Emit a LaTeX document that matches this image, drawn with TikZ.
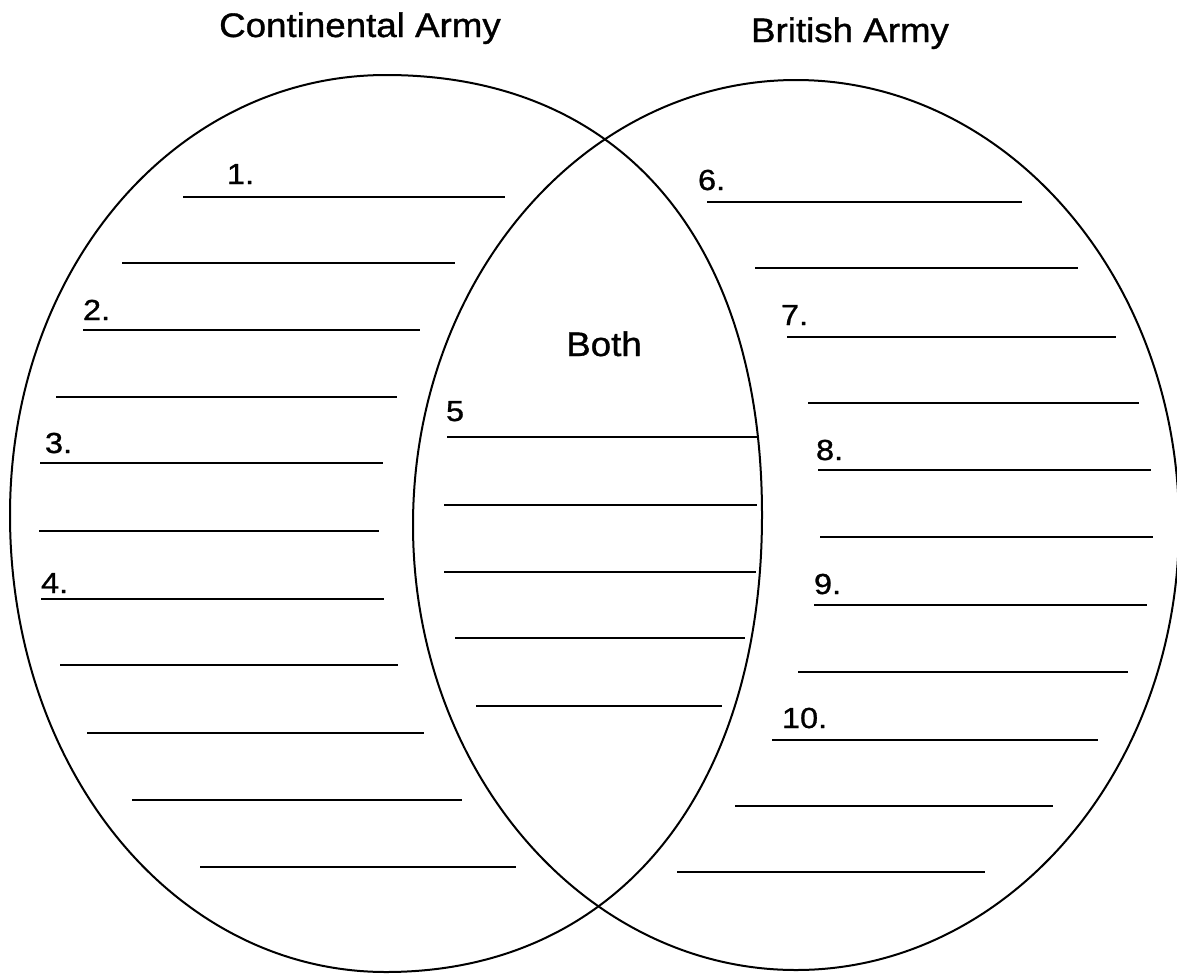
\documentclass[tikz,border=0pt]{standalone}
\usepackage{fontspec}
\setmainfont{Liberation Sans}
\newfontfamily\headfont{Liberation Sans}[FakeBold=1, FakeStretch=1.08]
\newfontfamily\numfont{Liberation Sans}[FakeBold=1, FakeStretch=1.12]
\begin{document}
\begin{tikzpicture}[x=1pt, y=-1pt, line width=2pt,
  title/.style={font=\headfont\fontsize{34}{40}\selectfont, anchor=base, inner sep=0pt},
  num/.style={font=\numfont\fontsize{29}{32}\selectfont, anchor=base west, inner sep=0pt},
  rule/.style={line width=1.9pt}
]
  \useasboundingbox (0,0) rectangle (1177,975);
  % the two sets (hand drawn, a little fuller than true ellipses)
  \draw (762,515) .. controls (762,240) and (621,75) .. (386,75)
                  .. controls (175,75) and (10,269) .. (10,515)
                  .. controls (10,771) and (175,972) .. (386,972)
                  .. controls (615,972) and (762,794) .. cycle;
  \draw (796,525) ellipse [x radius=383, y radius=445];
  % headings
  \node[title] (cont) at (360,37)  {Continental Army};
  \node[title] (brit) at (850,42)  {British Army};
  \node[title] (both) at (604,356) {Both};
  % Continental Army
  \node[num] (n1) at (226,184) {1.};
  \node[num] (n2) at (82,320)  {2.};
  \node[num] (n3) at (44,453)  {3.};
  \node[num] (n4) at (40,593)  {4.};
  \draw[rule] (183,197) -- (505,197);
  \draw[rule] (122,263) -- (455,263);
  \draw[rule] (83,330)  -- (420,330);
  \draw[rule] (56,397)  -- (397,397);
  \draw[rule] (40,463)  -- (383,463);
  \draw[rule] (39,531)  -- (379,531);
  \draw[rule] (41,599)  -- (384,599);
  \draw[rule] (60,665)  -- (398,665);
  \draw[rule] (87,733)  -- (424,733);
  \draw[rule] (132,800) -- (462,800);
  \draw[rule] (200,867) -- (516,867);
  % Both
  \node[num] (n5) at (445,421) {5};
  \draw[rule] (447,437) -- (758,437);
  \draw[rule] (444,505) -- (757,505);
  \draw[rule] (444,572) -- (756,572);
  \draw[rule] (455,638) -- (745,638);
  \draw[rule] (476,706) -- (722,706);
  % British Army
  \node[num] (n6)  at (697,190) {6.};
  \node[num] (n7)  at (780,325) {7.};
  \node[num] (n8)  at (815,460) {8.};
  \node[num] (n9)  at (813,594) {9.};
  \node[num] (n10) at (781,728) {10.};
  \draw[rule] (707,202)  -- (1022,202);
  \draw[rule] (755,268)  -- (1078,268);
  \draw[rule] (787,337)  -- (1116,337);
  \draw[rule] (808,403)  -- (1139,403);
  \draw[rule] (818,470)  -- (1151,470);
  \draw[rule] (820,537)  -- (1153,537);
  \draw[rule] (814,605)  -- (1147,605);
  \draw[rule] (798,672)  -- (1128,672);
  \draw[rule] (772,740)  -- (1098,740);
  \draw[rule] (735,806)  -- (1053,806);
  \draw[rule] (677,872)  -- (985,872);
\end{tikzpicture}
\end{document}
